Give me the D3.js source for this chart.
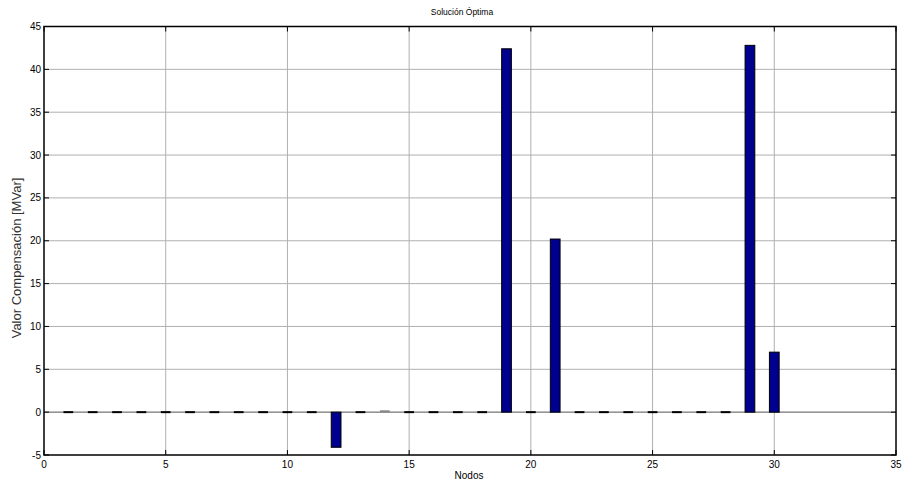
<!DOCTYPE html>
<html>
<head>
<meta charset="utf-8">
<script src="https://cdn.jsdelivr.net/npm/d3@7"></script>
<style>
  body { margin: 0; background: #fff; }
  text { font-family: "Liberation Sans", Arial, sans-serif; }
</style>
</head>
<body>
<svg width="904" height="484"></svg>
<script>
// nodes 1..30 and compensation values
var nodos = d3.range(1, 31);
var valores = [0, 0, 0, 0, 0, 0, 0, 0, 0, 0,
               0, -4.1, 0, 0.1, 0, 0, 0, 0, 42.4, 0,
               20.2, 0, 0, 0, 0, 0, 0, 0, 42.8, 7.0];
var xTicks = [0, 5, 10, 15, 20, 25, 30, 35];
var yTicks = [-5, 0, 5, 10, 15, 20, 25, 30, 35, 40, 45];

var svg = d3.select('svg');
var pL = 44, pR = 896, pT = 26.5, pB = 455;

var x = d3.scaleLinear().domain([0, 35]).range([pL, pR]);
var y = d3.scaleLinear().domain([-5, 45]).range([pB, pT]);

var g = svg.append('g');

// grid
g.selectAll('.vg').data(xTicks.slice(1, -1)).enter().append('line')
  .attr('x1', d => x(d)).attr('x2', d => x(d))
  .attr('y1', pT).attr('y2', pB)
  .attr('stroke', '#b0b0b0').attr('stroke-width', 1);
g.selectAll('.hg').data(yTicks.slice(1, -1)).enter().append('line')
  .attr('x1', pL).attr('x2', pR)
  .attr('y1', d => y(d)).attr('y2', d => y(d))
  .attr('stroke', '#b0b0b0').attr('stroke-width', 1);

// baseline
g.append('line').attr('x1', pL).attr('x2', pR)
  .attr('y1', y(0)).attr('y2', y(0))
  .attr('stroke', '#777').attr('stroke-width', 1);

// bars
var bw = x(0.4) - x(0);
var datos = nodos.map((n, i) => ({n: n, v: valores[i]}));
g.selectAll('.bar').data(datos.filter(d => Math.abs(d.v) >= 0.5)).enter().append('rect')
  .attr('x', d => x(d.n) - bw / 2)
  .attr('y', d => y(Math.max(0, d.v)))
  .attr('width', bw)
  .attr('height', d => Math.abs(y(d.v) - y(0)))
  .attr('fill', '#00008f').attr('stroke', '#000').attr('stroke-width', 1);
// zero / tiny bars look like dashes on the baseline
g.selectAll('.zb').data(datos.filter(d => Math.abs(d.v) < 0.5)).enter().append('line')
  .attr('x1', d => x(d.n) - bw / 2).attr('x2', d => x(d.n) + bw / 2)
  .attr('y1', d => y(d.v)).attr('y2', d => y(d.v))
  .attr('stroke', d => d.v === 0 ? '#000' : '#888').attr('stroke-width', 2);

// box
g.append('rect').attr('x', pL).attr('y', pT)
  .attr('width', pR - pL).attr('height', pB - pT)
  .attr('fill', 'none').attr('stroke', '#000').attr('stroke-width', 1.5);

// ticks inward
var tl = 5;
xTicks.forEach(function(t) {
  g.append('line').attr('x1', x(t)).attr('x2', x(t)).attr('y1', pB).attr('y2', pB - tl).attr('stroke', '#000');
  g.append('line').attr('x1', x(t)).attr('x2', x(t)).attr('y1', pT).attr('y2', pT + tl).attr('stroke', '#000');
  g.append('text').attr('x', x(t)).attr('y', pB + 13).attr('text-anchor', 'middle')
    .attr('font-size', 10).text(t);
});
yTicks.forEach(function(t) {
  g.append('line').attr('x1', pL).attr('x2', pL + tl).attr('y1', y(t)).attr('y2', y(t)).attr('stroke', '#000');
  g.append('line').attr('x1', pR).attr('x2', pR - tl).attr('y1', y(t)).attr('y2', y(t)).attr('stroke', '#000');
  g.append('text').attr('x', pL - 3).attr('y', y(t) + 3.5).attr('text-anchor', 'end')
    .attr('font-size', 10).text(t);
});

// labels
svg.append('text').attr('x', 462).attr('y', 15).attr('text-anchor', 'middle')
  .attr('font-size', 8.5).text('Solución Óptima');
svg.append('text').attr('x', 469).attr('y', 479).attr('text-anchor', 'middle')
  .attr('font-size', 10).text('Nodos');
svg.append('text').attr('transform', 'translate(21,258) rotate(-90)')
  .attr('text-anchor', 'middle').attr('font-size', 13).attr('fill', '#333')
  .text('Valor Compensación [MVar]');
</script>
</body>
</html>
